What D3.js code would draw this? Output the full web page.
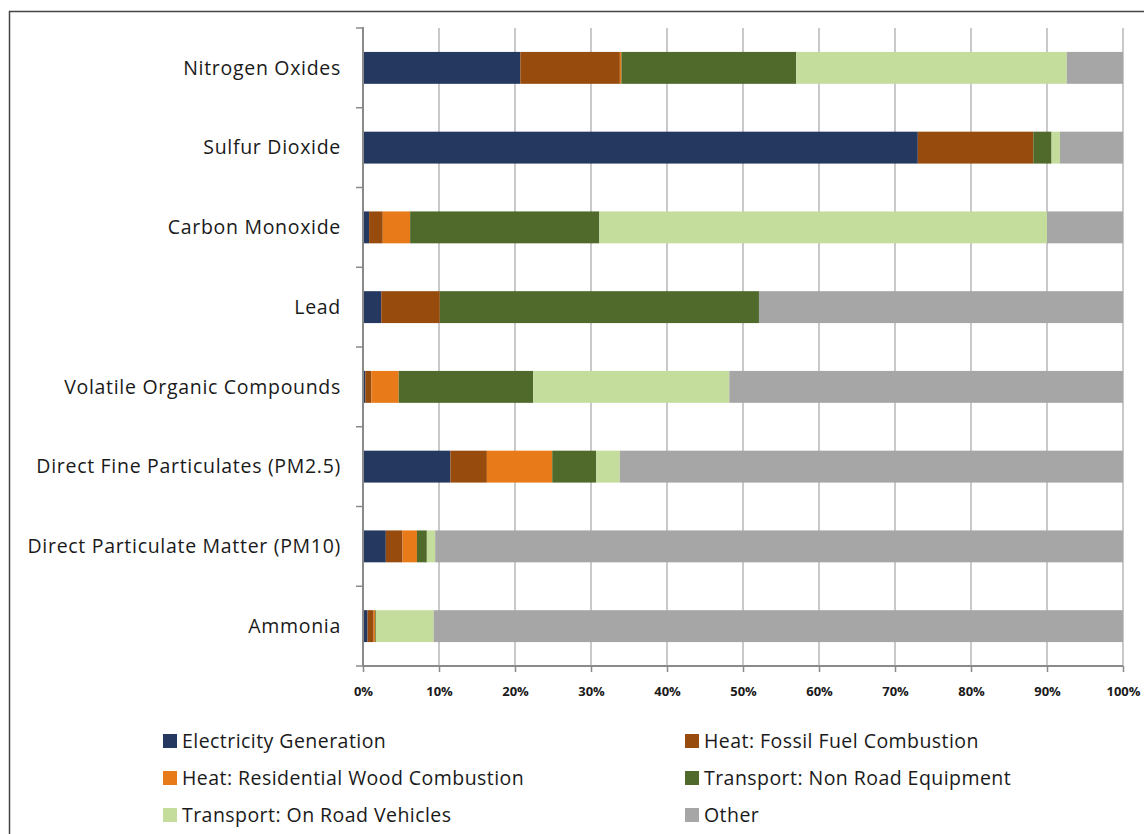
<!DOCTYPE html>
<html>
<head>
<meta charset="utf-8">
<script src="https://cdn.jsdelivr.net/npm/d3@7"></script>
<style>
  body { margin: 0; background: #fff; }
  text { font-family: "Open Sans", "Liberation Sans", sans-serif; fill: #1a1a1a; }
</style>
</head>
<body>
<div id="chart"></div>
<script>
// pollutants, top to bottom
const categories = [
  "Nitrogen Oxides",
  "Sulfur Dioxide",
  "Carbon Monoxide",
  "Lead",
  "Volatile Organic Compounds",
  "Direct Fine Particulates (PM2.5)",
  "Direct Particulate Matter (PM10)",
  "Ammonia"
]

const sources = [
  "Electricity Generation",
  "Heat: Fossil Fuel Combustion",
  "Heat: Residential Wood Combustion",
  "Transport: Non Road Equipment",
  "Transport: On Road Vehicles",
  "Other"
]

// share (%) of each pollutant per source, same order as categories
const electricity = [20.7, 73.0, 0.8, 2.4, 0.3, 11.5, 3.0, 0.6]
const fossilFuel = [13.1, 15.2, 1.8, 7.7, 0.8, 4.8, 2.2, 0.8]
const woodCombustion = [0.2, 0.0, 3.6, 0.0, 3.6, 8.6, 1.9, 0.2]
const nonRoad = [23.0, 2.4, 24.9, 42.0, 17.7, 5.8, 1.3, 0.1]
const onRoad = [35.6, 1.1, 58.9, 0.0, 25.8, 3.1, 1.1, 7.6]
const other = [7.4, 8.3, 10.0, 47.9, 51.8, 66.2, 90.5, 90.7]

const xTicks = [0, 10, 20, 30, 40, 50, 60, 70, 80, 90, 100]

const colors = ["#253860", "#974c0e", "#e87a1a", "#4f6a2b", "#c4dd9c", "#a6a6a6"]

const width = 1144,
  height = 834

const seriesValues = [electricity, fossilFuel, woodCombustion, nonRoad, onRoad, other]

// build rows for d3.stack
const rows = categories.map((c, i) => {
  const row = { category: c }
  sources.forEach((s, j) => (row[s] = seriesValues[j][i]))
  return row
})

const stack = d3.stack().keys(sources).offset(d3.stackOffsetExpand)
const stacked = stack(rows)

const svg = d3.select("#chart").append("svg").attr("width", width).attr("height", height)

// outer frame (only top and left visible)
svg.append("path")
  .attr("d", "M9.5,834 V11.5 H1144")
  .attr("fill", "none")
  .attr("stroke", "#444")
  .attr("stroke-width", 1.5)

const x = d3.scaleLinear().domain([0, 1]).range([363, 1123])
const y = d3.scaleBand().domain(categories).range([28, 666]).paddingInner(0.6).paddingOuter(0.3)

// gridlines
svg.append("g")
  .selectAll("line")
  .data(xTicks.slice(1))
  .join("line")
  .attr("x1", (d) => x(d / 100))
  .attr("x2", (d) => x(d / 100))
  .attr("y1", 28)
  .attr("y2", 666)
  .attr("stroke", "#c9c9c9")
  .attr("stroke-width", 2)

// bars
svg.append("g")
  .selectAll("g")
  .data(stacked)
  .join("g")
  .attr("fill", (d, i) => colors[i])
  .selectAll("rect")
  .data((d) => d)
  .join("rect")
  .attr("x", (d) => x(d[0]))
  .attr("width", (d) => Math.max(0, x(d[1]) - x(d[0])))
  .attr("y", (d) => y(d.data.category))
  .attr("height", y.bandwidth())

// x axis
const xAxis = svg.append("g")
  .attr("transform", "translate(0,666)")
  .call(d3.axisBottom(x).tickValues(xTicks.map((d) => d / 100)).tickFormat((d) => Math.round(d * 100) + "%").tickSize(6).tickPadding(15))
xAxis.select(".domain").attr("stroke", "#8a8a8a").attr("stroke-width", 2).attr("d", "M363,0H1123")
xAxis.selectAll(".tick line").attr("stroke", "#8a8a8a").attr("stroke-width", 1.5)
xAxis.selectAll(".tick text")
  .style("font-family", "'Open Sans', sans-serif")
  .style("font-size", "13px")
  .style("font-weight", "bold")
  .attr("fill", "#1a1a1a")

// y axis: tick marks between categories
const yBounds = d3.range(categories.length + 1).map((i) => 28 + i * (638 / categories.length))
const yAxis = svg.append("g")
yAxis.append("line")
  .attr("x1", 363).attr("x2", 363)
  .attr("y1", 27).attr("y2", 667)
  .attr("stroke", "#8a8a8a")
  .attr("stroke-width", 2)
yAxis.selectAll(".ytick")
  .data(yBounds)
  .join("line")
  .attr("x1", 356).attr("x2", 363)
  .attr("y1", (d) => d).attr("y2", (d) => d)
  .attr("stroke", "#8a8a8a")
  .attr("stroke-width", 1.5)

// category labels
svg.append("g")
  .selectAll("text")
  .data(categories)
  .join("text")
  .attr("x", 341)
  .attr("y", (d) => y(d) + y.bandwidth() / 2)
  .attr("dy", "0.35em")
  .attr("text-anchor", "end")
  .style("font-size", "19.5px")
  .style("letter-spacing", "0.7px")
  .text((d) => d)

// legend
const legend = svg.append("g")
  .selectAll("g")
  .data(sources)
  .join("g")
  .attr("transform", (d, i) => `translate(${i % 2 === 0 ? 163 : 685},${741 + Math.floor(i / 2) * 37})`)

legend.append("rect")
  .attr("x", 0)
  .attr("y", -7)
  .attr("width", 14)
  .attr("height", 14)
  .attr("fill", (d, i) => colors[i])

legend.append("text")
  .attr("x", 19)
  .attr("dy", "0.35em")
  .style("font-size", "19.5px")
  .style("letter-spacing", "0.45px")
  .text((d) => d)
</script>
</body>
</html>
